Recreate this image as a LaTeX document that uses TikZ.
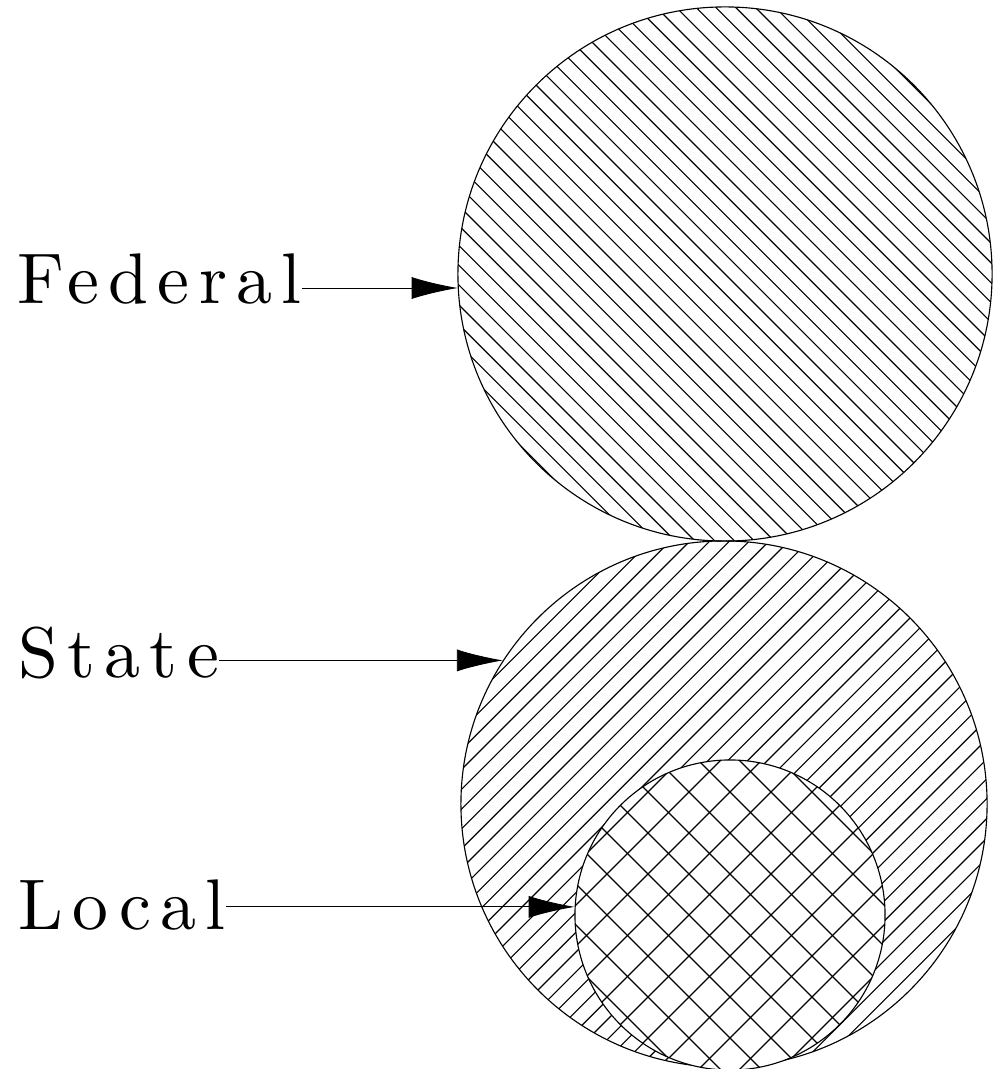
\documentclass[tikz,border=0pt]{standalone}
\usepackage{fontspec}
\newfontfamily\lblfont{lmroman10-regular}[Extension=.otf,LetterSpace=13]
\usetikzlibrary{arrows.meta,calc,positioning}
\begin{document}
\begin{tikzpicture}[x=0.025cm,y=-0.025cm,
    lbl/.style={inner sep=0pt,anchor=base west,
      font=\lblfont\fontsize{51}{51}\selectfont},
    ring/.style={circle,draw,line width=0.8pt,inner sep=0pt,minimum size=#1*0.05cm},
    hatch/.style={line width=0.8pt},
    pointer/.style={-{Latex[length=1.15cm,width=0.55cm]},line width=0.6pt}]
        \useasboundingbox (0,0) rectangle (992,1069);
        \def\rf{267}
        \def\rs{263}
        \def\rl{155}
        \coordinate (cf) at (725,274);
        \coordinate (cs) at (724,804);
        \coordinate (cl) at (730,915);
        %Federal hatching
        \begin{scope}
          \clip (cf) circle[radius=\rf];
          \foreach \k in {-20,...,20}
            \draw[hatch] ($(cf)+(\k*19.8-290,-290)$) -- ++(580,580);
        \end{scope}
        \node[ring=\rf] (fed) at (cf) {};
        %State hatching
        \begin{scope}
          \clip (cs) circle[radius=\rs];
          \foreach \k in {-20,...,20}
            \draw[hatch] ($(cs)+(\k*19.8-290,290)$) -- ++(580,-580);
        \end{scope}
        \node[ring=\rs] (state) at (cs) {};
        %Local cross hatching
        \fill[white] (cl) circle[radius=\rl];
        \begin{scope}
          \clip (cl) circle[radius=\rl];
          \foreach \k in {-6,...,6}
          {
            \draw[hatch] ($(cl)+(\k*41-170,-170)$) -- ++(340,340);
            \draw[hatch] ($(cl)+(\k*41-170,170)$) -- ++(340,-340);
          }
        \end{scope}
        \node[ring=\rl] (local) at (cl) {};
        %Draw labels
        \node[lbl] (fedtxt) at (17,303) {Federal};
        \node[lbl] (statetxt) at (18,677) {State};
        \node[lbl] (localtxt) at (18,929) {Local};
        %Draw arrows
        \draw[pointer] (fedtxt.east |- fed.183) -- (fed.183);
        \draw[pointer] (statetxt.east |- state.147) -- (state.147);
        \draw[pointer] (localtxt.east |- local.177) -- (local.177);
\end{tikzpicture}
\end{document}
